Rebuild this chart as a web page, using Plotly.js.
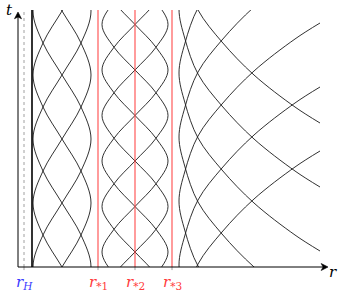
<!DOCTYPE html>
<html><head><meta charset="utf-8">
<script src="https://cdn.plot.ly/plotly-3.0.1.min.js"></script>
<style>html,body{margin:0;padding:0;background:#fff}</style>
</head><body><div id="chart" style="width:344px;height:292px"></div>
<script>
// special radii on the r axis and their labels
const markNames = ['<i>r</i><sub><i>H</i></sub>', '<i>r</i><sub>*1</sub>', '<i>r</i><sub>*2</sub>', '<i>r</i><sub>*3</sub>'];
const markR = [6, 80, 117, 154];
const markColors = ['#3a3aff', '#ff3a3a', '#ff3a3a', '#ff3a3a'];
const innerLineR = 14;
// family A: bound orbits oscillating between r=15 and r=73 (r at each 1/8 of a period, from inner turning point)
const bandA_r = [15, 25, 44, 63, 73, 63, 44, 25];
const bandA_period = 256;
const bandA_turnT = [0, 64, 128, 192];
// family B: bound orbits around r*2
const bandB_r = [84, 96, 117, 138, 150, 138, 117, 96];
const bandB_period = 182;
const bandB_turnT = [197, 151.5, 106, 60.5];
// family C: scattering orbits (time from turning point, r)
const scatDt = [0, 30, 65, 97, 130, 162, 178];
const scatR = [161, 167, 180, 204, 236, 277, 302];
const scatTurnT = [322, 258, 194, 130, 66, 2, -62];
const tMax = 257, rMax = 310;

const FONT = 'DejaVu Serif';
const lineStyle = {color: '#1a1a1a', width: 0.9, shape: 'spline', smoothing: 1};
const traces = [];
function boundCurve(rs, period, t0) {
  const n = rs.length, step = period / n, x = [], y = [];
  const kmin = Math.floor((-2 * step - t0) / step), kmax = Math.ceil((tMax + 2 * step - t0) / step);
  for (let k = kmin; k <= kmax; k++) {
    x.push(rs[((k % n) + n) % n]);
    y.push(t0 + k * step);
  }
  return {x, y, type: 'scatter', mode: 'lines', line: lineStyle, hoverinfo: 'skip', showlegend: false};
}
bandA_turnT.forEach(t0 => traces.push(boundCurve(bandA_r, bandA_period, t0)));
bandB_turnT.forEach(t0 => traces.push(boundCurve(bandB_r, bandB_period, t0)));
scatTurnT.forEach(t0 => {
  const x = [], y = [];
  for (let i = scatDt.length - 1; i >= 1; i--) { x.push(scatR[i]); y.push(t0 - scatDt[i]); }
  for (let i = 0; i < scatDt.length; i++) { x.push(scatR[i]); y.push(t0 + scatDt[i]); }
  traces.push({x, y, type: 'scatter', mode: 'lines', line: lineStyle, hoverinfo: 'skip', showlegend: false});
});

const shapes = [];
shapes.push({type: 'line', xref: 'x', yref: 'y', x0: markR[0], x1: markR[0], y0: 0, y1: tMax, line: {color: '#888', width: 0.8, dash: 'dot'}});
shapes.push({type: 'line', xref: 'x', yref: 'y', x0: innerLineR, x1: innerLineR, y0: 0, y1: tMax, line: {color: '#000', width: 1.6}});
for (let i = 1; i < markR.length; i++) {
  shapes.push({type: 'line', xref: 'x', yref: 'y', x0: markR[i], x1: markR[i], y0: 0, y1: tMax, line: {color: '#ff4a4a', width: 1.1}});
}
markR.forEach(r => shapes.push({type: 'line', xref: 'x', yref: 'paper', x0: r, x1: r, y0: 0, y1: -0.012, line: {color: '#888', width: 0.8}}));
shapes.push({type: 'line', xref: 'paper', yref: 'paper', x0: 0, x1: 0.99, y0: 0, y1: 0, line: {color: '#000', width: 1}});
shapes.push({type: 'line', xref: 'paper', yref: 'paper', x0: 0, x1: 0, y0: 0, y1: 0.98, line: {color: '#000', width: 1}});
shapes.push({type: 'path', xref: 'paper', yref: 'paper', path: 'M 1,0 L 0.978,0.0136 L 0.984,0 L 0.978,-0.0136 Z', fillcolor: '#000', line: {color: '#000', width: 0.6}});
shapes.push({type: 'path', xref: 'paper', yref: 'paper', path: 'M 0,0.992 L -0.0113,0.966 L 0,0.973 L 0.0113,0.966 Z', fillcolor: '#000', line: {color: '#000', width: 0.6}});

const annotations = [];
annotations.push({x: -0.046, y: 1.0, xref: 'paper', yref: 'paper', yanchor: 'middle', text: '<i>t</i>', showarrow: false, font: {family: FONT, size: 15, color: '#000'}});
annotations.push({x: 1.035, y: -0.02, xref: 'paper', yref: 'paper', yanchor: 'middle', text: '<i>r</i>', showarrow: false, font: {family: FONT, size: 15, color: '#000'}});
markR.forEach((r, i) => annotations.push({x: r, y: 0, xref: 'x', yref: 'paper', yanchor: 'top', yshift: -4, text: markNames[i], showarrow: false, font: {family: FONT, size: 15, color: markColors[i]}}));

const layout = {
  width: 344, height: 292,
  margin: {l: 18, r: 16, t: 10, b: 25},
  paper_bgcolor: '#fff', plot_bgcolor: '#fff',
  font: {family: FONT},
  xaxis: {range: [0, rMax], visible: false, fixedrange: true},
  yaxis: {range: [0, tMax], visible: false, fixedrange: true},
  shapes, annotations, showlegend: false
};
Plotly.newPlot('chart', traces, layout, {staticPlot: true, displayModeBar: false});
</script></body></html>
